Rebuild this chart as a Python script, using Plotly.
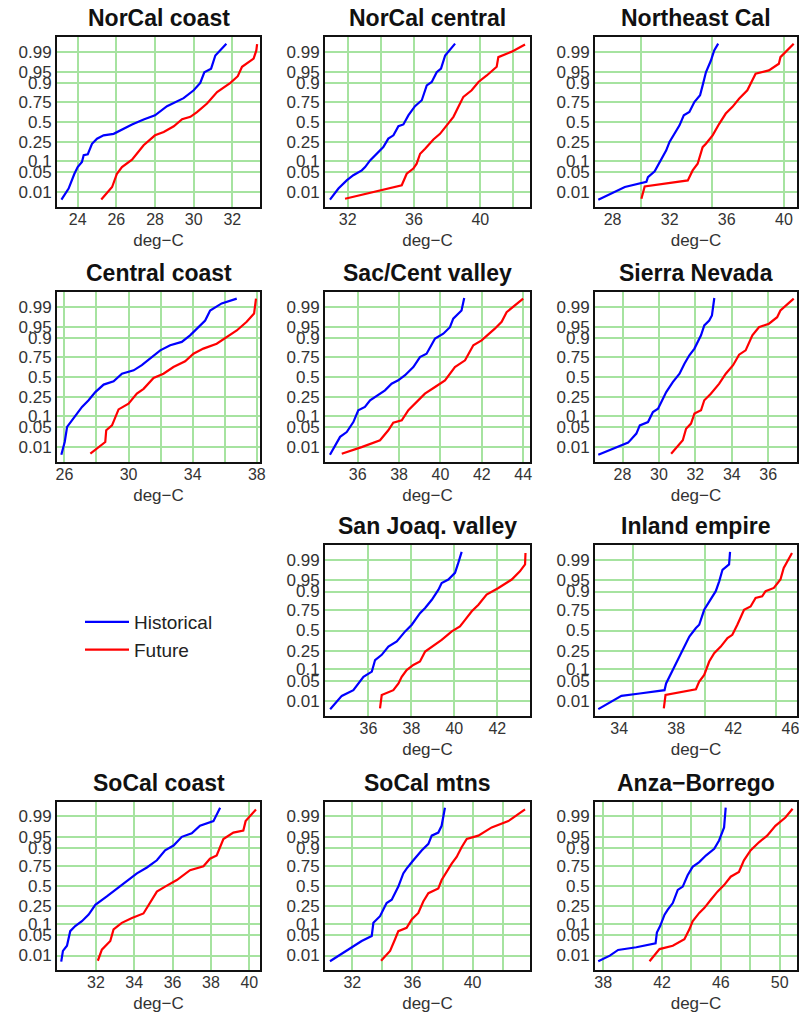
import plotly.graph_objects as go
from statistics import NormalDist

# ---------------- data (temperature deg-C, cumulative probability) ----------------
region_names = ["NorCal coast", "NorCal central", "Northeast Cal", "Central coast",
                "Sac/Cent valley", "Sierra Nevada", "San Joaq. valley", "Inland empire",
                "SoCal coast", "SoCal mtns", "Anza\u2212Borrego"]

prob_ticks = [0.01, 0.05, 0.1, 0.25, 0.5, 0.75, 0.9, 0.95, 0.99]
prob_tick_text = ["0.01", "0.05", "0.1", "0.25", "0.5", "0.75", "0.9", "0.95", "0.99"]

norcal_coast_hist_temp = [23.16, 23.53, 23.83, 24.0, 24.22, 24.31, 24.52, 24.74, 25.0, 25.34, 25.86, 26.2, 26.81, 27.41, 28.0, 28.62, 29.48, 30.0, 30.34, 30.55, 30.9, 31.12, 31.69]
norcal_coast_hist_prob = [0.0051, 0.0139, 0.0436, 0.068, 0.093, 0.136, 0.142, 0.236, 0.291, 0.330, 0.348, 0.390, 0.468, 0.532, 0.587, 0.699, 0.785, 0.853, 0.902, 0.950, 0.961, 0.986, 0.9952]
norcal_coast_fut_temp = [25.22, 25.78, 26.03, 26.29, 26.81, 27.07, 27.41, 28.0, 28.45, 28.97, 29.40, 29.83, 30.17, 30.69, 31.21, 31.9, 32.28, 32.5, 33.1, 33.24, 33.28]
norcal_coast_fut_prob = [0.0052, 0.0158, 0.0436, 0.068, 0.106, 0.147, 0.221, 0.330, 0.371, 0.444, 0.536, 0.568, 0.629, 0.729, 0.839, 0.902, 0.935, 0.966, 0.982, 0.991, 0.995]

norcal_central_hist_temp = [30.93, 31.44, 31.94, 32.34, 32.85, 33.05, 33.35, 33.75, 34.15, 34.45, 34.76, 35.06, 35.36, 35.66, 36.06, 36.47, 36.77, 37.07, 37.37, 37.63, 37.88, 38.48]
norcal_central_hist_prob = [0.0051, 0.0139, 0.0268, 0.0392, 0.0548, 0.0681, 0.102, 0.147, 0.203, 0.291, 0.330, 0.444, 0.468, 0.587, 0.699, 0.764, 0.887, 0.907, 0.950, 0.961, 0.986, 0.9952]
norcal_central_fut_temp = [31.84, 34.90, 35.26, 35.56, 35.96, 36.16, 36.37, 36.67, 37.17, 37.57, 37.98, 38.38, 38.68, 38.98, 39.48, 39.89, 40.39, 40.99, 41.09, 41.90, 42.70]
norcal_central_fut_prob = [0.0056, 0.0158, 0.0183, 0.0436, 0.0618, 0.0839, 0.147, 0.189, 0.281, 0.348, 0.456, 0.568, 0.692, 0.797, 0.853, 0.907, 0.938, 0.966, 0.984, 0.990, 0.9948]

northeast_cal_hist_temp = [27.0, 27.93, 28.86, 30.37, 30.48, 30.95, 31.18, 31.53, 31.76, 31.99, 32.34, 32.69, 32.99, 33.38, 33.73, 34.13, 34.31, 34.54, 34.89, 35.12, 35.40]
northeast_cal_hist_prob = [0.0051, 0.0094, 0.0158, 0.0239, 0.0344, 0.0516, 0.0764, 0.123, 0.174, 0.255, 0.348, 0.456, 0.587, 0.629, 0.745, 0.811, 0.887, 0.950, 0.979, 0.991, 0.9952]
northeast_cal_fut_temp = [30.02, 30.25, 33.27, 33.61, 33.96, 34.31, 34.54, 35.01, 35.47, 35.93, 36.40, 36.86, 37.44, 38.02, 38.95, 39.65, 39.76, 40.69]
northeast_cal_fut_prob = [0.0056, 0.0166, 0.0268, 0.0548, 0.0839, 0.203, 0.236, 0.330, 0.476, 0.610, 0.692, 0.779, 0.853, 0.945, 0.956, 0.973, 0.984, 0.9952]

central_coast_hist_temp = [25.81, 26.02, 26.17, 26.48, 26.79, 27.10, 27.51, 27.93, 28.45, 29.07, 29.59, 30.32, 30.83, 31.35, 31.98, 32.60, 33.32, 33.84, 34.46, 34.78, 35.09, 35.81, 36.75]
central_coast_hist_prob = [0.0051, 0.0158, 0.0495, 0.0764, 0.113, 0.161, 0.221, 0.309, 0.401, 0.444, 0.544, 0.587, 0.652, 0.729, 0.811, 0.853, 0.877, 0.916, 0.956, 0.969, 0.986, 0.9925, 0.9952]
central_coast_fut_temp = [27.62, 28.14, 28.55, 28.61, 28.97, 29.38, 30.0, 30.52, 30.94, 31.56, 32.18, 32.80, 33.53, 34.05, 34.67, 35.50, 36.12, 36.75, 37.37, 37.83, 37.95]
central_coast_fut_prob = [0.0056, 0.0102, 0.0158, 0.0392, 0.0548, 0.142, 0.189, 0.291, 0.348, 0.488, 0.544, 0.629, 0.699, 0.779, 0.826, 0.864, 0.907, 0.938, 0.966, 0.982, 0.9952]

sac_valley_hist_temp = [34.66, 35.15, 35.47, 35.79, 36.03, 36.35, 36.60, 36.92, 37.32, 37.64, 37.96, 38.29, 38.69, 39.01, 39.33, 39.74, 40.14, 40.46, 40.62, 41.02, 41.15]
sac_valley_hist_prob = [0.0051, 0.0239, 0.0344, 0.068, 0.136, 0.161, 0.221, 0.271, 0.330, 0.413, 0.456, 0.524, 0.629, 0.745, 0.779, 0.898, 0.924, 0.950, 0.973, 0.986, 0.9955]
sac_valley_fut_temp = [35.23, 36.19, 37.08, 37.48, 37.72, 38.13, 38.45, 38.85, 39.25, 39.74, 40.22, 40.70, 41.19, 41.59, 41.99, 42.63, 42.96, 43.20, 44.0]
sac_valley_fut_prob = [0.0056, 0.0102, 0.0183, 0.0392, 0.0655, 0.0764, 0.136, 0.203, 0.291, 0.371, 0.456, 0.629, 0.709, 0.853, 0.887, 0.945, 0.966, 0.984, 0.9952]

sierra_nevada_hist_temp = [26.67, 28.31, 28.76, 28.95, 29.40, 29.67, 29.95, 30.22, 30.40, 30.76, 31.13, 31.40, 31.67, 31.95, 32.31, 32.49, 32.76, 32.91, 33.04]
sierra_nevada_hist_prob = [0.0051, 0.0150, 0.0307, 0.0548, 0.068, 0.123, 0.147, 0.236, 0.309, 0.433, 0.544, 0.670, 0.764, 0.826, 0.916, 0.956, 0.969, 0.979, 0.9955]
sierra_nevada_fut_temp = [30.67, 31.31, 31.49, 31.76, 31.95, 32.31, 32.49, 32.85, 33.31, 33.67, 34.07, 34.40, 34.76, 35.13, 35.49, 36.04, 36.49, 36.67, 37.40]
sierra_nevada_fut_prob = [0.0056, 0.0183, 0.0436, 0.0618, 0.113, 0.136, 0.221, 0.291, 0.413, 0.544, 0.652, 0.770, 0.811, 0.916, 0.950, 0.961, 0.976, 0.986, 0.9952]

san_joaq_hist_temp = [34.22, 34.76, 35.30, 35.53, 35.77, 36.16, 36.31, 36.62, 36.93, 37.32, 37.71, 38.02, 38.40, 38.64, 38.95, 39.26, 39.41, 39.72, 40.03, 40.16, 40.34]
san_joaq_hist_prob = [0.0048, 0.0158, 0.0250, 0.0409, 0.0643, 0.0885, 0.166, 0.212, 0.298, 0.359, 0.488, 0.575, 0.716, 0.770, 0.844, 0.910, 0.941, 0.953, 0.971, 0.985, 0.9951]
san_joaq_fut_temp = [36.54, 36.62, 37.16, 37.40, 37.55, 37.78, 38.09, 38.40, 38.64, 38.95, 39.41, 39.88, 40.26, 40.50, 40.81, 41.12, 41.50, 42.05, 42.67, 43.05, 43.29, 43.31]
san_joaq_fut_prob = [0.0052, 0.0170, 0.0250, 0.0409, 0.0643, 0.0968, 0.129, 0.154, 0.245, 0.298, 0.378, 0.488, 0.552, 0.637, 0.736, 0.802, 0.881, 0.919, 0.953, 0.974, 0.985, 0.9946]

inland_empire_hist_temp = [32.54, 33.35, 34.16, 35.44, 37.18, 37.29, 37.64, 37.99, 38.22, 38.57, 38.92, 39.38, 39.61, 39.96, 40.43, 40.77, 41.01, 41.24, 41.70, 41.77]
inland_empire_hist_prob = [0.0049, 0.0089, 0.0158, 0.0192, 0.0250, 0.0409, 0.0793, 0.129, 0.195, 0.298, 0.421, 0.532, 0.575, 0.752, 0.844, 0.902, 0.947, 0.977, 0.985, 0.9951]
inland_empire_fut_temp = [37.13, 37.25, 39.38, 39.61, 39.96, 40.31, 40.66, 41.12, 41.59, 41.93, 42.28, 42.75, 43.21, 43.56, 44.02, 44.26, 44.84, 45.30, 45.53, 46.11]
inland_empire_fut_prob = [0.0052, 0.0170, 0.0268, 0.0465, 0.0721, 0.154, 0.227, 0.298, 0.401, 0.444, 0.575, 0.752, 0.785, 0.858, 0.869, 0.902, 0.919, 0.953, 0.980, 0.9946]

socal_coast_hist_temp = [30.19, 30.28, 30.49, 30.66, 30.92, 31.27, 31.62, 31.97, 32.57, 33.09, 33.61, 34.14, 34.66, 35.18, 35.61, 36.05, 36.48, 37.0, 37.43, 38.13, 38.48]
socal_coast_hist_prob = [0.0057, 0.0150, 0.0228, 0.0655, 0.0901, 0.119, 0.169, 0.264, 0.363, 0.468, 0.564, 0.663, 0.732, 0.805, 0.883, 0.912, 0.950, 0.961, 0.978, 0.985, 0.9956]
socal_coast_fut_temp = [32.10, 32.31, 32.75, 32.92, 33.35, 33.88, 34.48, 34.83, 35.18, 35.61, 36.22, 36.91, 37.61, 37.95, 38.30, 38.65, 39.17, 39.69, 39.81, 40.35]
socal_coast_fut_prob = [0.0062, 0.0166, 0.0329, 0.0735, 0.109, 0.142, 0.179, 0.284, 0.425, 0.492, 0.579, 0.702, 0.745, 0.819, 0.846, 0.942, 0.963, 0.968, 0.985, 0.9948]

socal_mtns_hist_temp = [30.51, 31.62, 32.62, 33.29, 33.40, 33.84, 34.06, 34.28, 34.62, 35.06, 35.39, 35.61, 36.06, 36.61, 37.06, 37.28, 37.72, 37.94, 38.16]
socal_mtns_hist_prob = [0.0059, 0.0150, 0.0329, 0.0475, 0.109, 0.156, 0.215, 0.284, 0.323, 0.492, 0.663, 0.719, 0.805, 0.883, 0.921, 0.954, 0.963, 0.978, 0.9956]
socal_mtns_fut_temp = [33.91, 34.51, 34.84, 35.06, 35.61, 35.95, 36.39, 36.72, 37.06, 37.72, 37.94, 38.27, 38.61, 38.94, 39.27, 39.61, 40.38, 41.27, 42.38, 43.49]
socal_mtns_fut_prob = [0.0062, 0.0150, 0.0375, 0.0655, 0.0808, 0.131, 0.184, 0.302, 0.405, 0.468, 0.579, 0.681, 0.773, 0.834, 0.903, 0.942, 0.954, 0.975, 0.985, 0.9948]

anza_borrego_hist_temp = [37.66, 38.45, 39.01, 40.25, 41.56, 41.65, 41.87, 42.17, 42.39, 42.73, 43.07, 43.41, 43.74, 44.08, 44.53, 44.98, 45.55, 45.88, 46.22, 46.33]
anza_borrego_hist_prob = [0.0059, 0.0099, 0.0162, 0.0202, 0.0274, 0.0594, 0.0901, 0.169, 0.215, 0.284, 0.448, 0.492, 0.641, 0.739, 0.788, 0.846, 0.893, 0.936, 0.975, 0.9956]
anza_borrego_fut_temp = [41.15, 41.83, 42.73, 43.52, 43.86, 44.08, 44.53, 44.87, 45.32, 45.77, 46.22, 46.67, 47.23, 47.57, 48.02, 48.59, 49.15, 49.71, 50.39, 50.88]
anza_borrego_fut_prob = [0.0059, 0.0174, 0.0228, 0.0375, 0.0735, 0.119, 0.184, 0.230, 0.323, 0.425, 0.512, 0.622, 0.681, 0.805, 0.883, 0.928, 0.954, 0.978, 0.989, 0.9951]

# x tick labels and x grid values per region
x_tick_labels = [[24, 26, 28, 30, 32], [32, 36, 40], [28, 32, 36, 40], [26, 30, 34, 38],
                 [36, 38, 40, 42, 44], [28, 30, 32, 34, 36], [36, 38, 40, 42], [34, 38, 42, 46],
                 [32, 34, 36, 38, 40], [32, 36, 40], [38, 42, 46, 50]]
x_grid_values = [[24, 26, 28, 30, 32], [32, 34, 36, 38, 40, 42], [30, 35, 40], [26, 28, 30, 32, 34, 36, 38],
                 [36, 38, 40, 42, 44], [28, 30, 32, 34, 36], [36, 38, 40, 42], [35, 40, 45],
                 [32, 34, 36, 38, 40], [32, 34, 36, 38, 40, 42], [38, 40, 42, 44, 46, 48, 50]]

hist_series = [
    (norcal_coast_hist_temp, norcal_coast_hist_prob), (norcal_central_hist_temp, norcal_central_hist_prob),
    (northeast_cal_hist_temp, northeast_cal_hist_prob), (central_coast_hist_temp, central_coast_hist_prob),
    (sac_valley_hist_temp, sac_valley_hist_prob), (sierra_nevada_hist_temp, sierra_nevada_hist_prob),
    (san_joaq_hist_temp, san_joaq_hist_prob), (inland_empire_hist_temp, inland_empire_hist_prob),
    (socal_coast_hist_temp, socal_coast_hist_prob), (socal_mtns_hist_temp, socal_mtns_hist_prob),
    (anza_borrego_hist_temp, anza_borrego_hist_prob)]
fut_series = [
    (norcal_coast_fut_temp, norcal_coast_fut_prob), (norcal_central_fut_temp, norcal_central_fut_prob),
    (northeast_cal_fut_temp, northeast_cal_fut_prob), (central_coast_fut_temp, central_coast_fut_prob),
    (sac_valley_fut_temp, sac_valley_fut_prob), (sierra_nevada_fut_temp, sierra_nevada_fut_prob),
    (san_joaq_fut_temp, san_joaq_fut_prob), (inland_empire_fut_temp, inland_empire_fut_prob),
    (socal_coast_fut_temp, socal_coast_fut_prob), (socal_mtns_fut_temp, socal_mtns_fut_prob),
    (anza_borrego_fut_temp, anza_borrego_fut_prob)]

# ---------------- layout (screen pixels; page body margin is removed) ----------------
W, H = 799, 1014
x_ranges = [(22.93, 33.43), (30.63, 43.0), (26.77, 40.92), (25.54, 38.2), (34.42, 44.33),
            (26.49, 37.58), (33.98, 43.52), (32.31, 46.46), (29.97, 40.56), (30.18, 43.82), (37.44, 51.18)]
cells = [(0, 0), (0, 1), (0, 2), (1, 0), (1, 1), (1, 2), (2, 1), (2, 2), (3, 0), (3, 1), (3, 2)]
col_px = [(57, 260), (325, 530), (595, 797)]
row_px = [(37, 207), (292, 462), (545, 716), (802, 970)]
Z_LIM = 2.81

def fx(px):
    return px / W

def fy(py):
    return 1 - py / H

FONT = "Liberation Sans, Arial, Helvetica, sans-serif"
GRID = "#a6e3a0"
BLUE = "#0000ff"
RED = "#ff0000"

nd = NormalDist()
def probit(ps):
    return [nd.inv_cdf(p) for p in ps]

fig = go.Figure()
annotations = []
layout_axes = {}

for i, name in enumerate(region_names):
    r, c = cells[i]
    x0, x1 = col_px[c]
    ytop, ybot = row_px[r]
    sfx = "" if i == 0 else str(i + 1)
    xname, yname = "x" + sfx, "y" + sfx

    ht, hp = hist_series[i]
    ft, fp = fut_series[i]
    fig.add_trace(go.Scatter(x=ht, y=probit(hp), mode="lines", name="Historical",
                             line=dict(color=BLUE, width=2.2), xaxis=xname, yaxis=yname,
                             showlegend=(i == 0), hoverinfo="skip"))
    fig.add_trace(go.Scatter(x=ft, y=probit(fp), mode="lines", name="Future",
                             line=dict(color=RED, width=2.2), xaxis=xname, yaxis=yname,
                             showlegend=(i == 0), hoverinfo="skip"))

    layout_axes["xaxis" + sfx] = dict(
        domain=[fx(x0), fx(x1)], anchor=yname, range=list(x_ranges[i]), automargin=False,
        tickmode="array", tickvals=x_tick_labels[i], ticktext=[str(v) for v in x_tick_labels[i]],
        ticks="", ticklabelstandoff=-3, ticklabeloverflow="allow",
        showgrid=False,
        minor=dict(tickmode="array", tickvals=x_grid_values[i], showgrid=True,
                   gridcolor=GRID, gridwidth=1.8, ticks="inside", ticklen=0),
        showline=True, linecolor="#111", linewidth=2, mirror=True, zeroline=False,
        tickfont=dict(family=FONT, size=16, color="#333"),
        title=dict(text="deg\u2212C", standoff=7, font=dict(family=FONT, size=17, color="#333")),
    )
    layout_axes["yaxis" + sfx] = dict(
        domain=[fy(ybot), fy(ytop)], anchor=xname, range=[-Z_LIM, Z_LIM], automargin=False,
        tickmode="array", tickvals=probit(prob_ticks), ticktext=prob_tick_text,
        ticks="", showgrid=True, gridcolor=GRID, gridwidth=1.8,
        showline=True, linecolor="#111", linewidth=2, mirror=True, zeroline=False,
        tickfont=dict(family=FONT, size=17, color="#333"),
    )
    annotations.append(dict(
        text=name, xref="paper", yref="paper", x=fx((x0 + x1) / 2), y=fy(ytop - 19),
        xanchor="center", yanchor="middle", showarrow=False,
        font=dict(family=FONT, size=23, color="#111", weight="bold")))

fig.update_layout(
    width=W, height=H, margin=dict(l=0, r=0, t=0, b=0, autoexpand=False),
    paper_bgcolor="white", plot_bgcolor="white",
    annotations=annotations,
    showlegend=True,
    legend=dict(x=fx(80), y=fy(636), xanchor="left", yanchor="middle",
                font=dict(family=FONT, size=19, color="#222"), bgcolor="rgba(0,0,0,0)",
                itemwidth=44),
    **layout_axes,
)

fig.write_html("out.html", config={"displayModeBar": False},
               post_script="document.body.style.margin='0px';")
